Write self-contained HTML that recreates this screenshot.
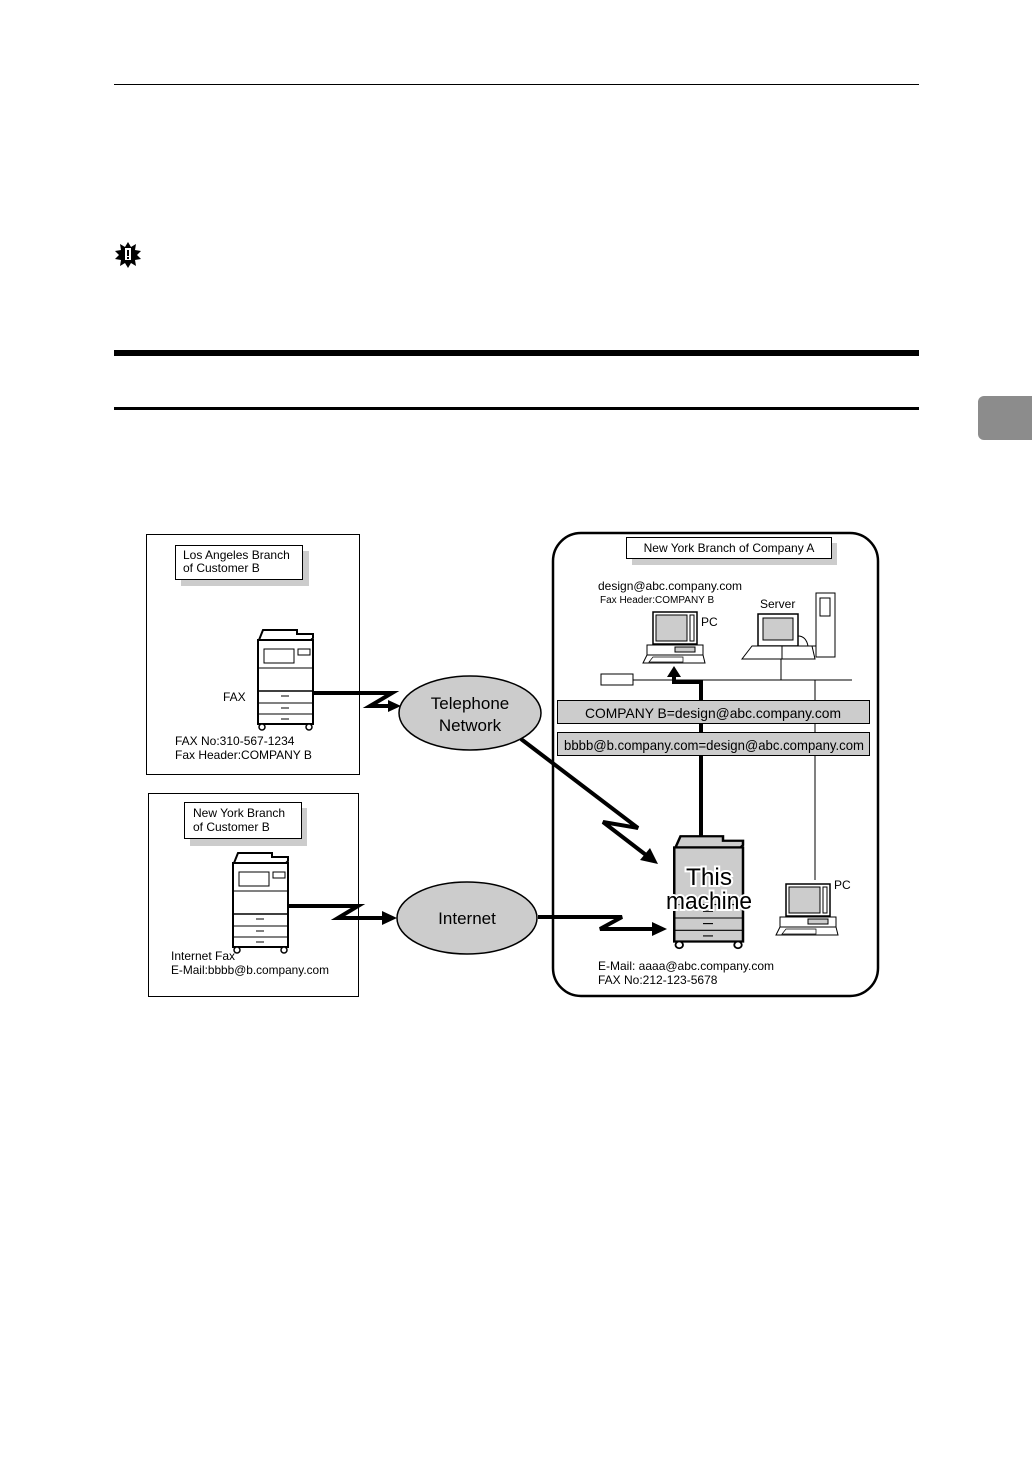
<!DOCTYPE html>
<html><head><style>
body{margin:0;background:#fff}
svg{display:block}
text{font-family:"Liberation Sans",Arial,sans-serif;fill:#000}
</style></head><body>
<svg width="1032" height="1458" viewBox="0 0 1032 1458" xmlns="http://www.w3.org/2000/svg">
<line x1="114" y1="84.5" x2="919" y2="84.5" stroke="#000" stroke-width="1"/>
<polygon points="128,242 131,247 136,244 135,250 141,251 137,255 141,259 135,260 136,266 131,263 128,268 125,263 120,266 121,260 115,259 119,255 115,251 121,250 120,244 125,247" fill="#000"/>
<rect x="125" y="248" width="6" height="12" fill="#fff"/><rect x="127" y="250" width="2" height="6" fill="#000"/><rect x="127" y="257" width="2" height="2" fill="#000"/>
<rect x="114" y="350" width="805" height="6" fill="#000"/>
<rect x="114" y="407" width="805" height="3" fill="#000"/>
<rect x="978" y="396" width="60" height="44" rx="6" fill="#8c8c8c"/>

<rect x="146.5" y="534.5" width="213" height="240" fill="none" stroke="#000"/>
<rect x="181" y="551" width="128" height="35" fill="#ccc"/>
<rect x="175.5" y="545.5" width="127" height="34" fill="#fff" stroke="#000"/>
<text x="183" y="559" font-size="12">Los Angeles Branch</text>
<text x="183" y="572" font-size="12">of Customer B</text>
<text x="223" y="701" font-size="12">FAX</text>
<text x="175" y="745" font-size="12">FAX No:310-567-1234</text>
<text x="175" y="759" font-size="12">Fax Header:COMPANY B</text>

<rect x="148.5" y="793.5" width="210" height="203" fill="none" stroke="#000"/>
<rect x="190" y="808" width="117" height="38" fill="#ccc"/>
<rect x="184.5" y="802.5" width="117" height="36" fill="#fff" stroke="#000"/>
<text x="193" y="817" font-size="12">New York Branch</text>
<text x="193" y="831" font-size="12">of Customer B</text>
<text x="171" y="960" font-size="12">Internet Fax</text>
<text x="171" y="974" font-size="12" textLength="158" lengthAdjust="spacingAndGlyphs">E-Mail:bbbb@b.company.com</text>

<defs>
<g id="pr">
<path d="M2,12 L6,2 L40,2 L40,6 L56,6 L56,10 L54,12 Z" fill="#fff" stroke="#000" stroke-width="2"/>
<rect x="1" y="12" width="55" height="84" fill="#fff" stroke="#000" stroke-width="2"/>
<rect x="7" y="21" width="30" height="14" fill="#fff" stroke="#000"/>
<rect x="41" y="21" width="12" height="6" fill="#fff" stroke="#000"/>
<line x1="1" y1="40" x2="56" y2="40" stroke="#000"/>
<line x1="1" y1="63" x2="56" y2="63" stroke="#000" stroke-width="1.5"/>
<line x1="1" y1="75" x2="56" y2="75" stroke="#000"/>
<line x1="1" y1="86" x2="56" y2="86" stroke="#000"/>
<line x1="24" y1="68" x2="32" y2="68" stroke="#000"/><line x1="24" y1="80" x2="32" y2="80" stroke="#000"/><line x1="24" y1="91" x2="32" y2="91" stroke="#000"/>
<circle cx="5" cy="99" r="3" fill="#fff" stroke="#000" stroke-width="1.5"/><circle cx="52" cy="99" r="3" fill="#fff" stroke="#000" stroke-width="1.5"/>
</g>
<g id="pc">
<rect x="10" y="0" width="44" height="32" fill="#fff" stroke="#000" stroke-width="1.5"/>
<rect x="13" y="3" width="31" height="26" fill="#ccc" stroke="#000"/>
<rect x="47" y="3" width="4" height="26" fill="#fff" stroke="#000"/>
<rect x="4" y="33" width="56" height="10" fill="#fff" stroke="#000"/>
<rect x="32" y="35" width="20" height="5" fill="#ccc" stroke="#000"/>
<path d="M4,43 L0,51 L62,51 L60,43 Z" fill="#fff" stroke="#000"/>
<path d="M10,45 L6,50 L40,50 L40,45 Z" fill="#fff" stroke="#000" stroke-width="0.7"/>
</g>
</defs>
<use href="#pr" x="257" y="628"/>
<use href="#pr" x="232" y="851"/>

<ellipse cx="470" cy="713" rx="71" ry="37" fill="#ccc" stroke="#000" stroke-width="1.5"/>
<text x="470" y="709" font-size="17" text-anchor="middle">Telephone</text>
<text x="470" y="731" font-size="17" text-anchor="middle">Network</text>
<ellipse cx="467" cy="918" rx="70" ry="36" fill="#ccc" stroke="#000" stroke-width="1.5"/>
<text x="467" y="924" font-size="17" text-anchor="middle">Internet</text>

<rect x="553" y="533" width="325" height="463" rx="28" fill="#fff" stroke="#000" stroke-width="2.5"/>
<rect x="632" y="543" width="205" height="22" fill="#ccc"/>
<rect x="626.5" y="537.5" width="205" height="21" fill="#fff" stroke="#000"/>
<text x="729" y="552" font-size="12" text-anchor="middle">New York Branch of Company A</text>
<text x="598" y="590" font-size="12">design@abc.company.com</text>
<text x="600" y="603" font-size="10">Fax Header:COMPANY B</text>
<text x="760" y="608" font-size="12">Server</text>
<text x="701" y="626" font-size="12">PC</text>
<use href="#pc" x="643" y="612"/>
<rect x="816" y="593" width="19" height="64" fill="#fff" stroke="#000"/>
<rect x="820" y="598" width="10" height="18" fill="#fff" stroke="#000"/>
<rect x="758" y="614" width="40" height="32" fill="#fff" stroke="#000" stroke-width="1.5"/>
<rect x="763" y="618" width="30" height="22" fill="#ccc" stroke="#000"/>
<path d="M798,636 Q806,636 808,646 L816,646" fill="none" stroke="#000"/>
<path d="M752,646 L742,659 L815,659 L812,646 Z" fill="#fff" stroke="#000"/>
<line x1="782" y1="646" x2="782" y2="659" stroke="#000"/>
<rect x="601" y="674" width="32" height="11" fill="#fff" stroke="#000"/>
<line x1="633" y1="680" x2="852" y2="680" stroke="#000"/>
<line x1="781" y1="659" x2="781" y2="680" stroke="#000"/>
<line x1="815" y1="680" x2="815" y2="880" stroke="#000"/>
<line x1="701" y1="680" x2="701" y2="838" stroke="#000" stroke-width="4"/>
<polyline points="701,682 674,682 674,676" fill="none" stroke="#000" stroke-width="4"/>
<polygon points="667,677 674,666 681,677" fill="#000"/>
<rect x="557.5" y="700.5" width="312" height="23" fill="#ccc" stroke="#000"/>
<text x="713" y="718" font-size="14" text-anchor="middle" textLength="256" lengthAdjust="spacingAndGlyphs">COMPANY B=design@abc.company.com</text>
<rect x="557.5" y="732.5" width="312" height="23" fill="#ccc" stroke="#000"/>
<text x="564" y="750" font-size="14" textLength="300" lengthAdjust="spacingAndGlyphs">bbbb@b.company.com=design@abc.company.com</text>

<g transform="translate(673,834) scale(1.25,1.12)">
<path d="M2,12 L6,2 L40,2 L40,6 L56,6 L56,10 L54,12 Z" fill="#ccc" stroke="#000" stroke-width="2"/>
<rect x="1" y="12" width="55" height="84" fill="#ccc" stroke="#000" stroke-width="2"/>
<line x1="1" y1="63" x2="56" y2="63" stroke="#000"/><line x1="1" y1="75" x2="56" y2="75" stroke="#000"/><line x1="1" y1="86" x2="56" y2="86" stroke="#000"/>
<line x1="24" y1="69" x2="32" y2="69" stroke="#000"/><line x1="24" y1="80" x2="32" y2="80" stroke="#000"/><line x1="24" y1="91" x2="32" y2="91" stroke="#000"/>
<circle cx="5" cy="99" r="3" fill="#fff" stroke="#000" stroke-width="1.5"/><circle cx="52" cy="99" r="3" fill="#fff" stroke="#000" stroke-width="1.5"/>
</g>
<text x="709" y="885" font-size="24" text-anchor="middle" stroke="#fff" stroke-width="4" paint-order="stroke" textLength="46" lengthAdjust="spacingAndGlyphs">This</text>
<text x="709" y="909" font-size="24" text-anchor="middle" stroke="#fff" stroke-width="4" paint-order="stroke" textLength="86" lengthAdjust="spacingAndGlyphs">machine</text>
<use href="#pc" x="776" y="884"/>
<text x="834" y="889" font-size="12">PC</text>
<text x="598" y="970" font-size="12">E-Mail:  aaaa@abc.company.com</text>
<text x="598" y="984" font-size="12">FAX No:212-123-5678</text>

<g fill="none" stroke="#000" stroke-width="4" stroke-linejoin="miter">
<polyline points="313,693 392,693 370,706 392,706"/>
<polyline points="288,906 358,906 338,918 385,918"/>
<polyline points="538,917 622,917 600,929 656,929"/>
<polyline points="521,739 638,828 603,822 646,855"/>
</g>
<polygon points="388,700 401,706 388,712" fill="#000"/>
<polygon points="382,911 397,918 382,925" fill="#000"/>
<polygon points="652,922 667,929 652,936" fill="#000"/>
<polygon points="640,860 658,864 650,848" fill="#000"/>
</svg>
</body></html>
